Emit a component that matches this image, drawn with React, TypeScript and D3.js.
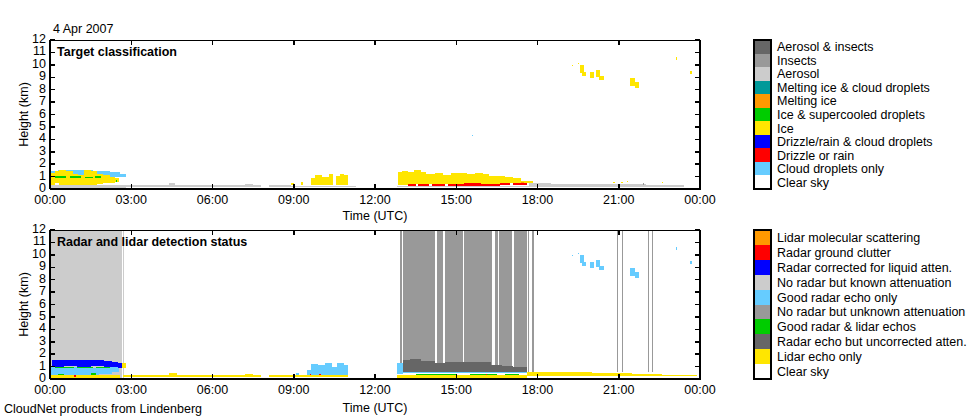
import React from 'react';
import * as d3 from 'd3';

// cells are [startHour, endHour, bottomKm, topKm]
type Cell = [number, number, number, number];

const hourTicks = [0, 3, 6, 9, 12, 15, 18, 21, 24];
const hourLabels = ['00:00', '03:00', '06:00', '09:00', '12:00', '15:00', '18:00', '21:00', '00:00'];

const targetClasses = [
  'Aerosol & insects', 'Insects', 'Aerosol', 'Melting ice & cloud droplets', 'Melting ice',
  'Ice & supercooled droplets', 'Ice', 'Drizzle/rain & cloud droplets', 'Drizzle or rain',
  'Cloud droplets only', 'Clear sky',
];
const targetColors = [
  '#666666', '#999999', '#cccccc', '#009999', '#ff9900',
  '#00cc00', '#ffe600', '#0000ff', '#ff0000', '#66ccff', '#ffffff',
];

const statusClasses = [
  'Lidar molecular scattering', 'Radar ground clutter', 'Radar corrected for liquid atten.',
  'No radar but known attenuation', 'Good radar echo only', 'No radar but unknown attenuation',
  'Good radar & lidar echos', 'Radar echo but uncorrected atten.', 'Lidar echo only', 'Clear sky',
];
const statusColors = [
  '#ff9900', '#ff0000', '#0000ff', '#cccccc', '#66ccff',
  '#999999', '#00cc00', '#666666', '#ffe600', '#ffffff',
];

// --- shared: the high ice cloud seen by both products
const highCloud: Cell[] = [
  [19.28, 19.32, 9.9, 10.0], [19.48, 19.52, 10.05, 10.15],
  [19.57, 19.7, 9.35, 10.0], [19.65, 19.8, 9.1, 9.45],
  [19.95, 20.1, 8.9, 9.4], [20.15, 20.3, 9.0, 9.6], [20.27, 20.45, 8.8, 9.1],
  [21.4, 21.6, 8.3, 8.9], [21.6, 21.75, 8.1, 8.6],
  [23.1, 23.16, 10.4, 10.65], [23.63, 23.7, 9.3, 9.5], [23.96, 24.0, 9.8, 10.0],
];

// --- target classification
const aerosol: Cell[] = [
  [0.05, 2.8, 0.1, 0.3], [2.8, 4.4, 0.2, 0.35], [4.4, 4.6, 0.2, 0.45], [4.6, 7.2, 0.2, 0.33],
  [7.2, 7.5, 0.2, 0.4], [7.5, 7.8, 0.2, 0.3], [8.1, 8.9, 0.2, 0.3], [8.9, 11.3, 0.15, 0.28],
  [12.8, 17.7, 0.15, 0.25], [17.7, 18.5, 0.2, 0.5], [18.5, 20.5, 0.2, 0.42],
  [20.5, 22.0, 0.2, 0.4], [22.0, 23.4, 0.2, 0.35],
];
const insects: Cell[] = [[21.88, 21.92, 0.35, 0.5]];
const dropletsAM: Cell[] = [
  [0.03, 0.3, 0.95, 1.45], [0.3, 1.0, 1.0, 1.5], [1.0, 1.6, 1.0, 1.5],
  [1.6, 2.2, 1.0, 1.45], [2.2, 2.6, 0.95, 1.35], [2.6, 2.8, 0.95, 1.2],
];
const dropletsDot: Cell[] = [[15.58, 15.62, 4.25, 4.35]];
const iceAM: Cell[] = [
  [0.05, 0.2, 0.35, 1.3], [0.2, 0.35, 0.5, 1.45], [0.35, 0.6, 0.3, 1.5], [0.6, 0.85, 0.3, 1.45],
  [0.85, 1.05, 0.35, 1.2], [1.05, 1.25, 0.3, 1.15], [1.25, 1.5, 0.3, 1.55], [1.5, 1.75, 0.35, 1.45],
  [1.75, 1.95, 0.4, 1.2], [1.95, 2.2, 0.45, 1.1], [2.2, 2.4, 0.5, 0.95], [2.4, 2.55, 0.6, 0.85],
];
const iceMid: Cell[] = [
  [8.9, 9.0, 0.3, 0.45], [9.25, 9.35, 0.3, 0.55], [9.65, 9.8, 0.3, 0.9], [9.8, 10.05, 0.3, 1.15],
  [10.05, 10.3, 0.3, 1.0], [10.3, 10.45, 0.3, 1.2], [10.55, 10.7, 0.3, 1.05], [10.7, 10.85, 0.3, 1.2],
  [10.85, 11.0, 0.3, 1.15],
];
const iceMain: Cell[] = [
  [12.84, 13.0, 0.35, 1.35], [13.0, 13.2, 0.35, 1.45], [13.2, 13.45, 0.4, 1.4], [13.45, 13.7, 0.4, 1.5],
  [13.7, 13.9, 0.4, 1.35], [13.9, 14.2, 0.4, 1.2], [14.2, 14.5, 0.4, 1.25], [14.5, 14.8, 0.4, 1.15],
  [14.8, 15.1, 0.4, 1.25], [15.1, 15.4, 0.4, 1.3], [15.4, 15.7, 0.4, 1.2], [15.7, 16.0, 0.4, 1.3],
  [16.0, 16.2, 0.4, 1.2], [16.2, 16.5, 0.4, 1.05], [16.5, 16.8, 0.4, 1.05], [16.8, 17.1, 0.45, 0.95],
  [17.1, 17.4, 0.45, 0.85], [17.4, 17.85, 0.45, 0.65],
];
const iceSpecks: Cell[] = [
  [20.8, 20.85, 0.5, 0.6], [21.1, 21.15, 0.5, 0.6], [21.3, 21.34, 0.55, 0.65], [22.6, 22.64, 0.5, 0.6],
];
const supercooledAM: Cell[] = [
  [0.2, 0.6, 0.9, 1.05], [0.75, 1.15, 0.88, 1.02], [1.3, 1.6, 0.85, 1.0], [1.65, 1.9, 0.9, 1.05],
  [2.42, 2.48, 0.6, 0.7],
];
const drizzle: Cell[] = [
  [13.2, 13.5, 0.25, 0.42], [13.6, 14.0, 0.25, 0.4], [14.1, 14.6, 0.25, 0.38], [14.7, 15.3, 0.25, 0.4],
  [15.3, 15.9, 0.25, 0.45], [15.9, 16.6, 0.25, 0.42], [16.6, 17.0, 0.3, 0.45], [17.1, 17.6, 0.3, 0.45],
];
const meltingIce: Cell[] = [[17.4, 17.5, 0.45, 0.55]];

// --- detection status
const knownAtten: Cell[] = [[0.03, 2.65, 0, 12], [2.69, 2.73, 0, 12]];
const unknownAtten: Cell[] = [
  [12.92, 12.99, 0.6, 12], [13.03, 14.22, 0.6, 12], [14.28, 14.52, 0.6, 12], [14.6, 15.24, 0.6, 12],
  [15.28, 16.31, 0.6, 12], [16.43, 16.55, 0.6, 12], [16.59, 17.07, 0.6, 12], [17.14, 17.62, 0.6, 12],
  [17.66, 17.7, 0.6, 12], [17.79, 17.87, 0.6, 12],
  [20.93, 20.97, 0.6, 12], [21.13, 21.17, 0.6, 12], [22.07, 22.11, 0.6, 12], [22.23, 22.27, 0.6, 12],
];
const lidarOnly: Cell[] = [
  [0.05, 2.6, 0.1, 0.3], [2.65, 2.8, 0.85, 1.3], [2.7, 4.4, 0.2, 0.35], [4.4, 4.7, 0.2, 0.45],
  [4.7, 7.2, 0.2, 0.35], [7.2, 7.5, 0.2, 0.4], [7.5, 7.8, 0.2, 0.33], [8.1, 8.9, 0.2, 0.32],
  [8.9, 11.0, 0.2, 0.35], [12.8, 17.6, 0.1, 0.3], [17.6, 18.6, 0.25, 0.6], [18.6, 20.0, 0.25, 0.55],
  [20.0, 21.5, 0.25, 0.5], [21.5, 22.6, 0.25, 0.42], [22.6, 23.9, 0.25, 0.35],
];
const radarOnly: Cell[] = [
  [0.05, 0.4, 0.3, 0.95], [0.4, 1.2, 0.35, 0.95], [1.2, 1.8, 0.3, 0.9], [1.8, 2.3, 0.4, 0.95],
  [2.3, 2.55, 0.6, 0.95],
  [9.1, 9.2, 0.3, 0.5], [9.5, 9.65, 0.3, 0.75], [9.65, 9.9, 0.3, 1.2], [9.9, 10.15, 0.35, 1.1],
  [10.15, 10.4, 0.3, 1.3], [10.4, 10.6, 0.35, 1.0], [10.6, 10.85, 0.3, 1.3], [10.85, 11.0, 0.3, 1.15],
  [12.83, 13.02, 0.4, 1.3], [13.0, 17.6, 0.45, 0.6],
];
const correctedAM: Cell[] = [
  [0.06, 0.5, 1.0, 1.5], [0.5, 1.0, 1.05, 1.55], [1.0, 1.5, 1.0, 1.55], [1.5, 2.0, 1.05, 1.5],
  [2.0, 2.3, 1.0, 1.45], [2.3, 2.5, 0.95, 1.4], [2.5, 2.65, 0.85, 1.3],
];
const bothEchos: Cell[] = [
  [0.2, 0.9, 0.9, 1.0], [1.0, 1.6, 0.88, 1.0], [1.7, 2.2, 0.9, 1.0], [0.3, 0.5, 0.3, 0.4],
  [1.5, 1.7, 0.35, 0.5], [13.5, 15.0, 0.3, 0.4], [15.5, 16.5, 0.3, 0.38], [16.8, 17.3, 0.3, 0.4],
];
const uncorrected: Cell[] = [
  [13.02, 13.3, 0.6, 1.5], [13.3, 13.7, 0.6, 1.58], [13.7, 14.2, 0.6, 1.45], [14.2, 14.6, 0.6, 1.3],
  [14.6, 15.25, 0.6, 1.35], [15.25, 15.7, 0.6, 1.35], [15.7, 16.3, 0.6, 1.4], [16.3, 16.7, 0.6, 1.1],
  [16.7, 17.1, 0.6, 1.05], [17.1, 17.6, 0.6, 1.0],
];
const clutter: Cell[] = [
  [0.9, 0.95, 0.2, 0.3], [9.6, 9.64, 0.3, 0.38], [9.95, 9.99, 0.35, 0.42], [16.1, 16.15, 0.3, 0.38],
];

type Layer = { color: string; cells: Cell[] };

const targetLayers: Layer[] = [
  { color: targetColors[2], cells: aerosol },
  { color: targetColors[1], cells: insects },
  { color: targetColors[9], cells: [...dropletsAM, ...dropletsDot] },
  { color: targetColors[6], cells: [...iceAM, ...iceMid, ...iceMain, ...iceSpecks, ...highCloud] },
  { color: targetColors[5], cells: supercooledAM },
  { color: targetColors[8], cells: drizzle },
  { color: targetColors[4], cells: meltingIce },
];

const statusLayers: Layer[] = [
  { color: statusColors[3], cells: knownAtten },
  { color: statusColors[5], cells: unknownAtten },
  { color: statusColors[8], cells: lidarOnly },
  { color: statusColors[4], cells: [...radarOnly, ...highCloud] },
  { color: statusColors[2], cells: correctedAM },
  { color: statusColors[6], cells: bothEchos },
  { color: statusColors[7], cells: uncorrected },
  { color: statusColors[1], cells: clutter },
];

const FONT = '"Liberation Sans", Arial, Helvetica, sans-serif';
const LEFT = 50;
const RIGHT = 700;

interface PanelProps {
  top: number;
  bottom: number;
  title: string;
  layers: Layer[];
  labels: string[];
  colors: string[];
  tickBaseline: number;
  timeBaseline: number;
}

const Panel: React.FC<PanelProps> = ({ top, bottom, title, layers, labels, colors, tickBaseline, timeBaseline }) => {
  const x = d3.scaleLinear().domain([0, 24]).range([LEFT, RIGHT]);
  const y = d3.scaleLinear().domain([0, 12]).range([bottom, top]);
  const legendStep = (bottom - top) / labels.length;
  const legendX = 754;

  return (
    <g fontFamily={FONT} fontSize={12.5}>
      <g shapeRendering="crispEdges">
        {layers.map((layer, li) =>
          layer.cells.map((c, ci) => (
            <rect
              key={`${li}-${ci}`}
              x={x(c[0])}
              y={y(c[3])}
              width={Math.max(1, x(c[1]) - x(c[0]))}
              height={Math.max(1, y(c[2]) - y(c[3]))}
              fill={layer.color}
            />
          ))
        )}
      </g>

      {/* frame */}
      <g stroke="#000" shapeRendering="crispEdges">
        <line x1={LEFT} x2={RIGHT} y1={top} y2={top} strokeWidth={1} />
        <line x1={LEFT} x2={RIGHT + 1} y1={bottom} y2={bottom} strokeWidth={2} />
        <line x1={LEFT} x2={LEFT} y1={top} y2={bottom} strokeWidth={2} />
        <line x1={RIGHT} x2={RIGHT} y1={top} y2={bottom} strokeWidth={2} />
        {hourTicks.map(h => (
          <g key={h}>
            <line x1={x(h)} x2={x(h)} y1={bottom} y2={bottom - 5} strokeWidth={1.5} />
            <line x1={x(h)} x2={x(h)} y1={top} y2={top + 5} strokeWidth={1.5} />
          </g>
        ))}
        {y.ticks(12).map(v => (
          <g key={v}>
            <line x1={LEFT} x2={LEFT + 5} y1={y(v)} y2={y(v)} strokeWidth={1.5} />
            <line x1={RIGHT} x2={RIGHT - 5} y1={y(v)} y2={y(v)} strokeWidth={1.5} />
          </g>
        ))}
      </g>

      {y.ticks(12).map(v => (
        <text key={v} x={46} y={y(v) - 1.5} dy="0.36em" textAnchor="end">{v}</text>
      ))}
      {hourTicks.map((h, i) => (
        <text key={h} x={x(h)} y={tickBaseline} textAnchor="middle">{hourLabels[i]}</text>
      ))}
      <text x={(LEFT + RIGHT) / 2} y={timeBaseline} textAnchor="middle">Time (UTC)</text>
      <text transform={`translate(23,${(top + bottom) / 2}) rotate(-90)`} dy="0.36em" textAnchor="middle">
        Height (km)
      </text>
      <text x={57} y={top + 16} fontWeight="bold">{title}</text>

      {/* legend */}
      <g shapeRendering="crispEdges">
        {colors.map((c, i) => (
          <rect key={i} x={legendX} y={top + i * legendStep} width={17} height={legendStep + 0.5} fill={c} />
        ))}
        <rect x={legendX} y={top} width={17} height={bottom - top} fill="none" stroke="#000" strokeWidth={1.5} />
      </g>
      {labels.map((l, i) => (
        <text key={l} x={777} y={top + (i + 0.5) * legendStep} dy="0.36em">{l}</text>
      ))}
    </g>
  );
};

export default function App() {
  return (
    <svg
      width={980}
      height={420}
      style={{ position: 'absolute', left: 0, top: 0, background: '#fff' }}
    >
      <rect width={980} height={420} fill="#fff" />
      <text x={53} y={32.5} fontFamily={FONT} fontSize={12.5}>4 Apr 2007</text>
      <Panel
        top={40}
        bottom={189}
        title="Target classification"
        layers={targetLayers}
        labels={targetClasses}
        colors={targetColors}
        tickBaseline={204}
        timeBaseline={220}
      />
      <Panel
        top={230}
        bottom={379}
        title="Radar and lidar detection status"
        layers={statusLayers}
        labels={statusClasses}
        colors={statusColors}
        tickBaseline={393.5}
        timeBaseline={412}
      />
      <text x={4} y={412.5} fontFamily={FONT} fontSize={12.5}>CloudNet products from Lindenberg</text>
    </svg>
  );
}
